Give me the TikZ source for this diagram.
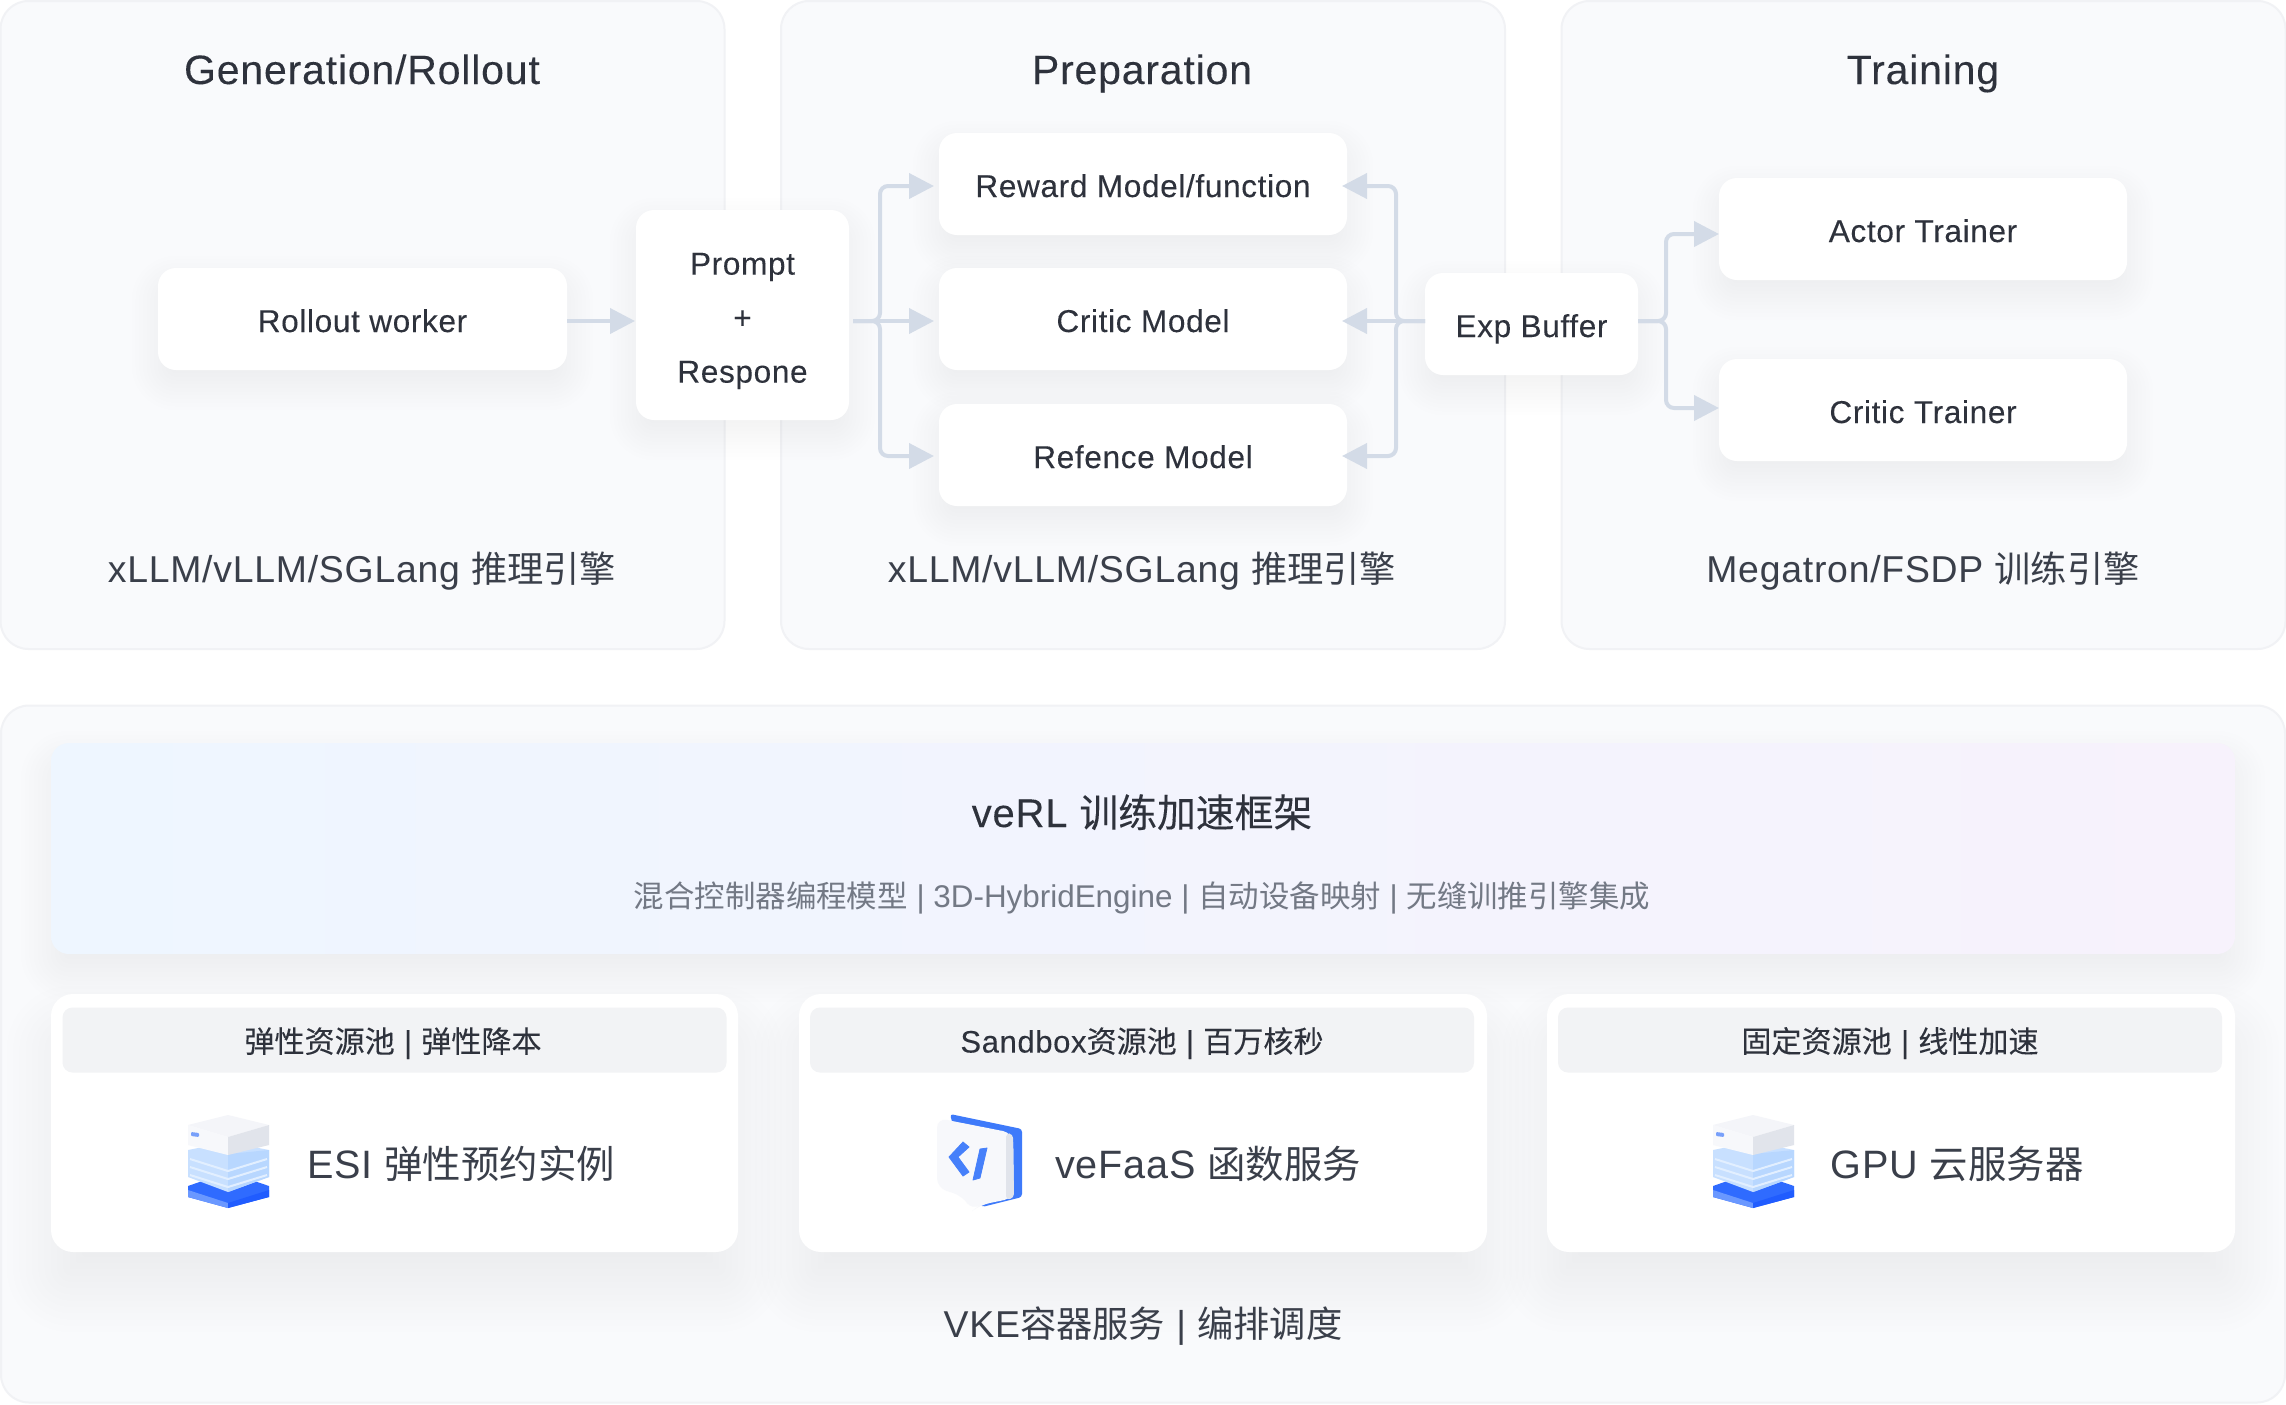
\documentclass[tikz,border=0pt]{standalone}
\usepackage{fontspec}
\usetikzlibrary{arrows.meta,calc}
\setmainfont[LetterSpace=2]{Liberation Sans}
\newfontfamily\plainlat{Liberation Sans}
\newfontfamily\latm[LetterSpace=2,FakeBold=0.12]{Liberation Sans}
\newfontfamily\cjk[Scale=0.97]{Noto Sans CJK SC}
\newfontfamily\cjkm[Scale=0.97,FakeBold=0.12]{Noto Sans CJK SC}
\definecolor{panelbg}{HTML}{F9FAFC}
\definecolor{panelline}{HTML}{F1F2F5}
\definecolor{ink}{HTML}{2E323C}
\definecolor{inksoft}{HTML}{3A3F4A}
\definecolor{inkgray}{HTML}{737985}
\definecolor{conn}{HTML}{D3DBE7}
\definecolor{headbg}{HTML}{F2F3F5}
\definecolor{shadowc}{HTML}{8C95A6}
\definecolor{bannerl}{HTML}{EEF6FF}
\definecolor{bannerm}{HTML}{EDF3FD}
\definecolor{bannerr}{HTML}{F7F2FC}
\definecolor{icbase}{HTML}{2F6BFF}
\definecolor{icbasel}{HTML}{6A98FF}
\definecolor{icbaser}{HTML}{205CFF}
\definecolor{icglass}{HTML}{C8E0FF}
\definecolor{icglassr}{HTML}{B8D7FF}
\definecolor{icglassl}{HTML}{E2EFFF}
\definecolor{ictop}{HTML}{F4F5F9}
\definecolor{icfront}{HTML}{F7F8FB}
\definecolor{icside}{HTML}{E1E4EB}
\definecolor{icchip}{HTML}{78A0FA}
\definecolor{icblue}{HTML}{4680FA}
\definecolor{icback}{HTML}{3E7AFA}
\newcommand\softshadow[7]{%
 \foreach \k in {1,...,14}{%
  \pgfmathsetmacro\ss{#6*(\k-7)/7}%
  \pgfmathsetmacro\rr{max(#5+\ss,2)}%
  \fill[shadowc,opacity=.006,rounded corners=\rr*0.5pt]
   (#1-\ss,#2-\ss+#7) rectangle (#3+\ss,#4+\ss+#7);
 }}
\tikzset{
 x=0.5pt,y=-0.5pt,
 size/.style 2 args={minimum width=#1*0.5pt,minimum height=#2*0.5pt,inner sep=0pt,outer sep=0pt},
 panel/.style={draw=panelline,line width=1pt,fill=panelbg,rounded corners=14pt},
 box/.style={fill=white,rounded corners=9pt,text=ink,font=\latm\fontsize{15.8}{27}\selectfont,text height=13pt,text depth=0pt},
 boxlines/.style={text=ink,font=\latm\fontsize{15.8}{27}\selectfont,align=center,inner sep=0pt},
 card/.style={fill=white,rounded corners=11pt},
 head/.style={fill=headbg,rounded corners=5pt},
 headtext/.style={anchor=base,text=ink,font=\latm\fontsize{15.5}{18}\selectfont},
 title/.style={anchor=base,text=ink,font=\latm\fontsize{20.5}{24}\selectfont},
 engine/.style={anchor=base,text=inksoft,font=\fontsize{18.7}{22}\selectfont},
 cardtext/.style={anchor=base,text=inksoft,font=\fontsize{19.8}{24}\selectfont},
 conn/.style={draw=conn,line width=2pt,rounded corners=4pt,-{Triangle[length=12.5pt,width=12.5pt]}},
}
\newcommand\servericon[1]{%
 \begin{scope}[shift={(#1,1090)}]
  \fill[icbase] (28,96)--(68,82)--(109,96)--(109,107)--(68,118)--(28,107)--cycle;
  \fill[icbasel] (28,100)--(68,113)--(68,118)--(28,107)--cycle;
  \fill[icbaser] (109,100)--(68,113)--(68,118)--(109,107)--cycle;
  \fill[icglass] (28,60)--(68,52)--(109,60)--(109,87)--(68,102)--(28,87)--cycle;
  \fill[icglassr] (68,64)--(109,60)--(109,87)--(68,102)--cycle;
  \foreach \d in {0,8,16}{\draw[icglassl,line width=1pt] (30,69+\d)--(68,81+\d)--(107,69+\d);}
  \fill[ictop] (28,35)--(68,25)--(109,35)--(68,47)--cycle;
  \fill[icfront] (28,35)--(68,47)--(68,65)--(28,55)--cycle;
  \fill[icside] (109,35)--(68,47)--(68,65)--(109,55)--cycle;
  \fill[icchip,rounded corners=0.5pt] (31,42)--(39,43)--(39,47)--(31,46)--cycle;
 \end{scope}}
\begin{document}
\begin{tikzpicture}
\useasboundingbox (0,0) rectangle (2286,1404);
\fill[white] (0,0) rectangle (2286,1404);
% panels
\node[panel,size={724}{648}] (p1) at (362.5,325) {};
\node[panel,size={724}{648}] (p2) at (1143,325) {};
\node[panel,size={724}{648}] (p3) at (1923.5,325) {};
\node[panel,size={2284}{697}] (p4) at (1143,1054) {};
% titles
\node[title] (t1) at (362,84) {Generation/Rollout};
\node[title] (t2) at (1142,84) {Preparation};
\node[title] (t3) at (1923,84) {Training};
\node[engine] (e1) at (362,582.5) {xLLM/vLLM/SGLang {\cjk 推理引擎}};
\node[engine] (e2) at (1142,582.5) {xLLM/vLLM/SGLang {\cjk 推理引擎}};
\node[engine] (e3) at (1923,582.5) {Megatron/FSDP {\cjk 训练引擎}};
% shadows of the small boxes
\softshadow{158}{268}{567}{370}{18}{26}{14}
\softshadow{636}{210}{849}{420}{18}{26}{14}
\softshadow{939}{133}{1347}{235}{18}{26}{14}
\softshadow{939}{268}{1347}{370}{18}{26}{14}
\softshadow{939}{404}{1347}{506}{18}{26}{14}
\softshadow{1425}{273}{1638}{375}{18}{26}{14}
\softshadow{1719}{178}{2127}{280}{18}{26}{14}
\softshadow{1719}{359}{2127}{461}{18}{26}{14}
% small boxes
\node[box,size={409}{102}] (rollout) at (362.5,319) {Rollout worker};
\node[box,size={213}{210}] (prompt) at (742.5,315) {};
\node[boxlines] (prompttext) at (742.5,321) {Prompt\\+\\Respone};
\node[box,size={408}{102}] (reward) at (1143,184) {Reward Model/function};
\node[box,size={408}{102}] (criticm) at (1143,319) {Critic Model};
\node[box,size={408}{102}] (refence) at (1143,455) {Refence Model};
\node[box,size={213}{102}] (exp) at (1531.5,324) {Exp Buffer};
\node[box,size={408}{102}] (actor) at (1923,229) {Actor Trainer};
\node[box,size={408}{102}] (criticm2) at (1923,410) {Critic Trainer};
% connector levels
\coordinate (ym) at (0,321);
\coordinate (yt) at (0,186);
\coordinate (yb) at (0,456);
\coordinate (busl) at (880,0);
\coordinate (busr) at (1396,0);
\coordinate (bust) at (1666,0);
\coordinate (ya) at (0,234);
\coordinate (yc) at (0,408);
\draw[conn,shorten >=0.5pt] (rollout.east |- ym) -- (prompt.west |- ym);
\draw[conn,shorten <=2pt,shorten >=2.5pt] (prompt.east |- ym) -- (criticm.west |- ym);
\draw[conn,shorten >=2.5pt] ($(prompt.east |- ym)+(4,0)$) -- (busl |- ym) |- (reward.west |- yt);
\draw[conn,shorten >=2.5pt] ($(prompt.east |- ym)+(4,0)$) -- (busl |- ym) |- (refence.west |- yb);
\draw[conn,shorten >=-2.5pt] (exp.west |- ym) -- (criticm.east |- ym);
\draw[conn,shorten >=-2.5pt] (exp.west |- ym) -- (busr |- ym) |- (reward.east |- yt);
\draw[conn,shorten >=-2.5pt] (exp.west |- ym) -- (busr |- ym) |- (refence.east |- yb);
\draw[conn] (exp.east |- ym) -- (bust |- ym) |- (actor.west |- ya);
\draw[conn] (exp.east |- ym) -- (bust |- ym) |- (criticm2.west |- yc);
% banner
\softshadow{51}{743}{2235}{954}{18}{30}{18}
\node[rounded corners=9pt,size={2184}{211},left color=bannerl,middle color=bannerm,right color=bannerr] (banner) at (1143,848.5) {};
\node[anchor=base,text=ink,font=\latm\fontsize{20}{24}\selectfont] (vt) at (1142,827) {veRL {\cjkm 训练加速框架}};
\node[anchor=base,text=inkgray,font=\plainlat\fontsize{15.7}{20}\selectfont] (vs) at (1142,907) {{\cjk 混合控制器编程模型} | 3D-HybridEngine | {\cjk 自动设备映射} | {\cjk 无缝训推引擎集成}};
% cards
\softshadow{51}{994}{738}{1252}{20}{44}{36}
\softshadow{799}{994}{1487}{1252}{20}{44}{36}
\softshadow{1547}{994}{2235}{1252}{20}{44}{36}
\node[card,size={687}{258}] (c1) at (394.5,1123) {};
\node[card,size={688}{258}] (c2) at (1143,1123) {};
\node[card,size={688}{258}] (c3) at (1891,1123) {};
\node[head,size={664}{65}] (h1) at (394.5,1040) {};
\node[head,size={664}{65}] (h2) at (1142,1040) {};
\node[head,size={664}{65}] (h3) at (1890,1040) {};
\node[headtext] (ht1) at (393,1052.5) {{\cjkm 弹性资源池} | {\cjkm 弹性降本}};
\node[headtext] (ht2) at (1142,1052.5) {Sandbox{\cjkm 资源池} | {\cjkm 百万核秒}};
\node[headtext] (ht3) at (1890,1052.5) {{\cjkm 固定资源池} | {\cjkm 线性加速}};
\servericon{160}
\servericon{1685}
\begin{scope}[shift={(910,1090)}]
 \fill[icback,rounded corners=1.5pt] (40,24)--(112,39)--(112,107)--(80,115)--(72,117)--(60,100)--cycle;
 \fill[icfront,rounded corners=5pt] (27,28)--(103,43)--(104,108)--(70,115)--(62,121)--(53,106)--(27,98)--cycle;
 \fill[icside,rounded corners=2pt] (96,43)--(103,44)--(104,108)--(96,110)--cycle;
 \fill[icblue,draw=icblue,line width=0.4pt,line join=round] (53,52)--(59,57)--(48,67)--(59,82)--(53,86)--(39,67)--cycle;
 \fill[icblue,draw=icblue,line width=0.4pt,line join=round] (70,59)--(77,58)--(70,88)--(63,90)--cycle;
\end{scope}
\node[cardtext] (ct1) at (461,1178.5) {ESI {\cjk 弹性预约实例}};
\node[cardtext] (ct2) at (1208,1178.5) {veFaaS {\cjk 函数服务}};
\node[cardtext] (ct3) at (1957,1178.5) {GPU {\cjk 云服务器}};
\node[engine] (vke) at (1143,1337) {VKE{\cjk 容器服务} | {\cjk 编排调度}};
\end{tikzpicture}
\end{document}
